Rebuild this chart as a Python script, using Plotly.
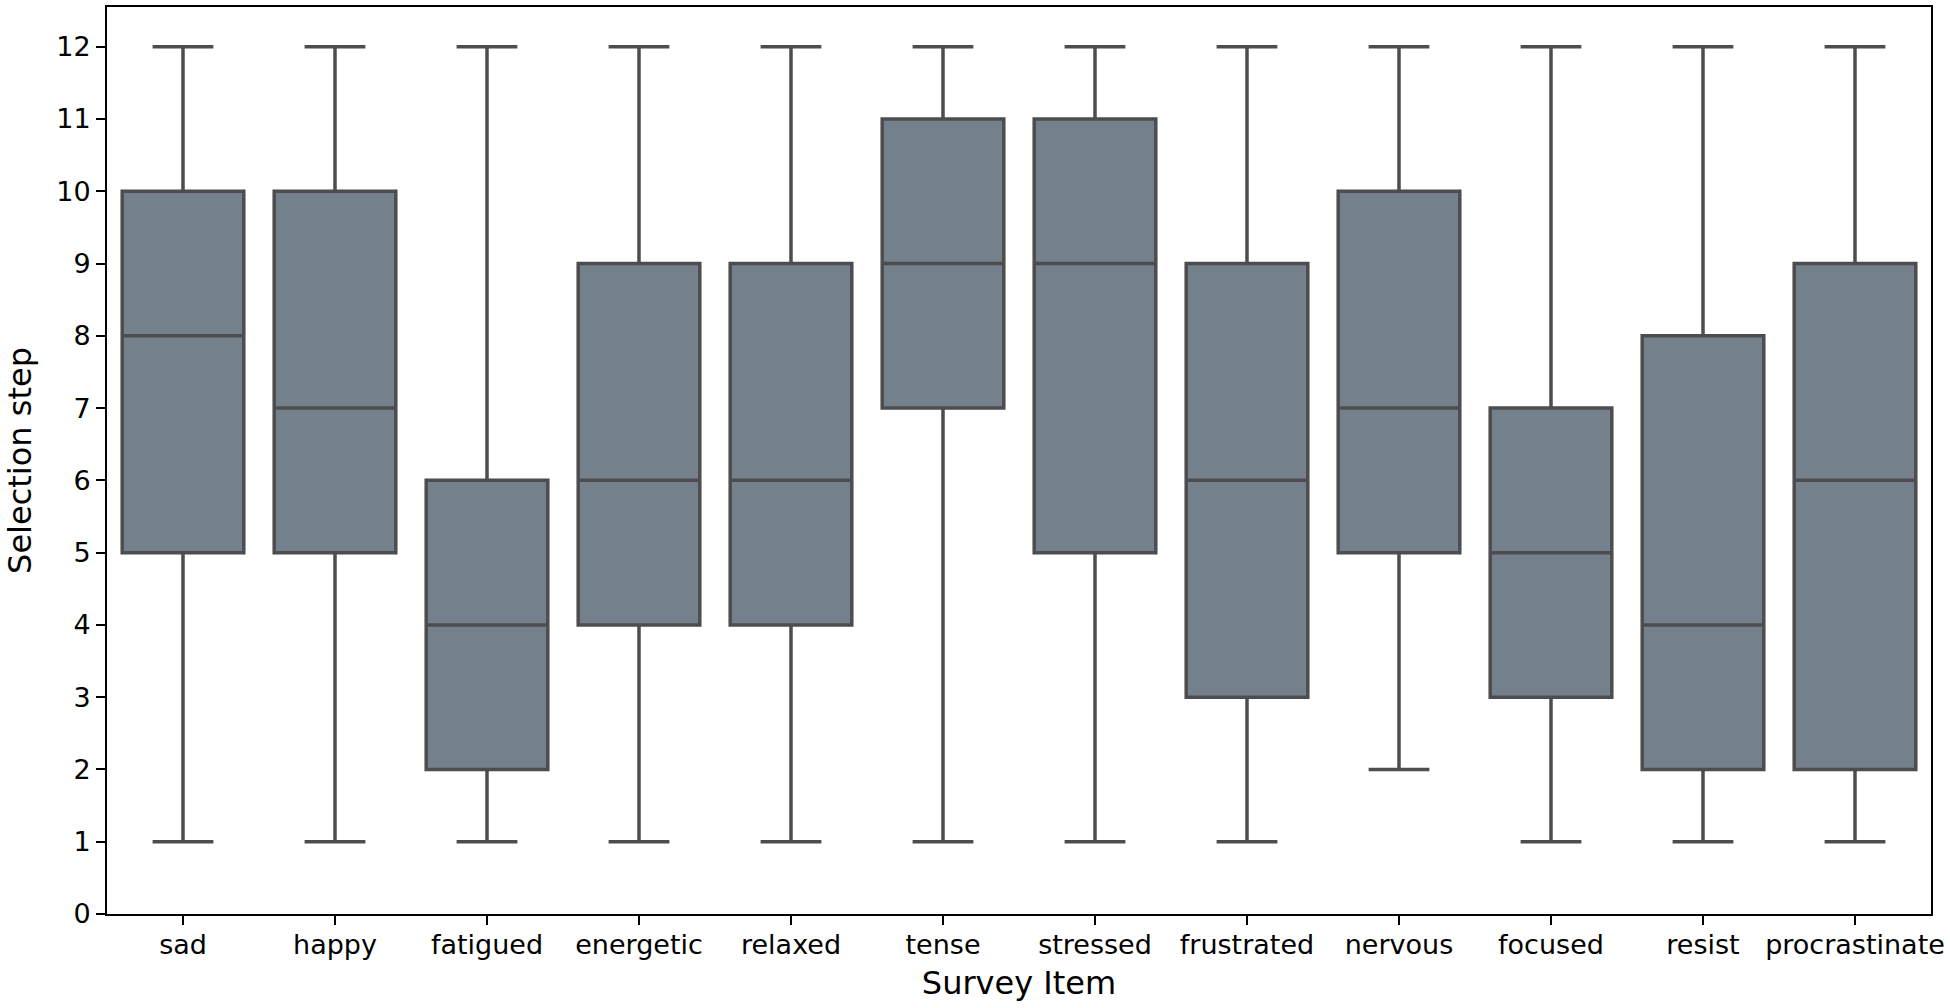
import plotly.graph_objects as go

categories = ["sad", "happy", "fatigued", "energetic", "relaxed", "tense",
              "stressed", "frustrated", "nervous", "focused", "resist", "procrastinate"]
lower = [1, 1, 1, 1, 1, 1, 1, 1, 2, 1, 1, 1]
q1 = [5, 5, 2, 4, 4, 7, 5, 3, 5, 3, 2, 2]
median = [8, 7, 4, 6, 6, 9, 9, 6, 7, 5, 4, 6]
q3 = [10, 10, 6, 9, 9, 11, 11, 9, 10, 7, 8, 9]
upper = [12, 12, 12, 12, 12, 12, 12, 12, 12, 12, 12, 12]
y_ticks = list(range(0, 13))

FONT = "DejaVu Sans"

fig = go.Figure()
fig.add_trace(go.Box(
    x=categories,
    q1=q1, median=median, q3=q3,
    lowerfence=lower, upperfence=upper,
    fillcolor="#74808c",
    line=dict(color="#4d4d4d", width=3.5),
    whiskerwidth=0.5,
    boxpoints=False,
    showlegend=False,
))

axis_common = dict(
    showline=True, linecolor="black", linewidth=2, mirror=True,
    ticks="outside", ticklen=9, tickwidth=2, tickcolor="black",
    showgrid=False, zeroline=False, automargin=False,
    tickfont=dict(family=FONT, size=27, color="black"),
)

fig.update_layout(
    width=1950, height=1008,
    paper_bgcolor="white", plot_bgcolor="white",
    margin=dict(l=107, r=19, t=7, b=94),
    boxgap=0.2,
    boxgroupgap=0,
    font=dict(family=FONT, color="black"),
    xaxis=dict(
        **axis_common,
        type="category",
        range=[-0.5, 11.5],
        ticklabelstandoff=-3,
        title=dict(text="Survey Item", font=dict(family=FONT, size=32), standoff=12),
    ),
    yaxis=dict(
        **axis_common,
        range=[0, 12.55],
        tickvals=y_ticks,
        ticktext=[str(v) for v in y_ticks],
        title=dict(text="Selection step", font=dict(family=FONT, size=32), standoff=15),
    ),
)

fig.write_html(
    "out.html",
    config={"displayModeBar": False},
    post_script="document.body.style.margin='0';document.body.style.overflow='hidden';",
)
